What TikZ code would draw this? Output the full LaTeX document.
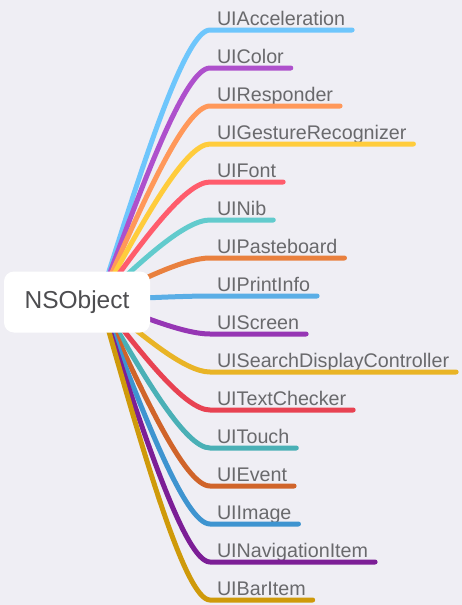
\documentclass[tikz,border=0pt]{standalone}
\usepackage{fontspec}
\setmainfont{Liberation Sans}
\usetikzlibrary{calc}

\definecolor{bgcol}{RGB}{239,238,244}
\definecolor{txtcol}{RGB}{105,105,108}
\definecolor{roottxt}{RGB}{77,77,80}
\definecolor{cAcc}{RGB}{110,198,252}
\definecolor{cColor}{RGB}{174,80,204}
\definecolor{cResp}{RGB}{255,152,90}
\definecolor{cGest}{RGB}{255,204,60}
\definecolor{cFont}{RGB}{255,92,108}
\definecolor{cNib}{RGB}{98,203,205}
\definecolor{cPaste}{RGB}{233,128,62}
\definecolor{cPrint}{RGB}{90,174,230}
\definecolor{cScreen}{RGB}{150,54,180}
\definecolor{cSearch}{RGB}{233,180,38}
\definecolor{cText}{RGB}{232,66,82}
\definecolor{cTouch}{RGB}{74,176,182}
\definecolor{cEvent}{RGB}{208,100,42}
\definecolor{cImage}{RGB}{62,148,208}
\definecolor{cNav}{RGB}{124,30,150}
\definecolor{cBar}{RGB}{207,154,10}

\begin{document}
\begin{tikzpicture}[
        x=1pt, y=-1pt,
        rootbox/.style={rectangle, fill=white, rounded corners=10pt, minimum width=146pt, minimum height=61pt, text=roottxt, font=\fontsize{24.5}{28}\selectfont},
        item/.style={anchor=south west, inner xsep=7pt, inner ysep=0pt, outer sep=0pt, text depth=5pt, text=txtcol, font=\fontsize{19.7}{23}\selectfont},
        branch/.style={line width=5pt, line cap=round, to path={.. controls ($(\tikztostart)!0.5!(\tikztotarget)+(-12.5,0)$) and ($(\tikztotarget)+(-25,0)$) .. (\tikztotarget)}}
    ]
        % Canvas
        \fill[bgcol] (0,0) rectangle (462,605);
        \useasboundingbox (0,0) rectangle (462,605);
        \coordinate (hub) at (100,300);

        % Classes
        \node[item] (acc) at (210,30) {UIAcceleration};
        \node[item] (color) at (210,68) {UIColor};
        \node[item] (responder) at (210,106) {UIResponder};
        \node[item] (gesture) at (210,144) {UIGestureRecognizer};
        \node[item] (font) at (210,182) {UIFont};
        \node[item] (nib) at (210,220) {UINib};
        \node[item] (pasteboard) at (210,258) {UIPasteboard};
        \node[item] (printinfo) at (210,296) {UIPrintInfo};
        \node[item] (screen) at (210,334) {UIScreen};
        \node[item] (search) at (210,372) {UISearchDisplayController};
        \node[item] (textchecker) at (210,410) {UITextChecker};
        \node[item] (touch) at (210,448) {UITouch};
        \node[item] (event) at (210,486) {UIEvent};
        \node[item] (image) at (210,524) {UIImage};
        \node[item] (navitem) at (210,562) {UINavigationItem};
        \node[item] (baritem) at (210,600) {UIBarItem};

        % Branches
        \draw[branch, cAcc] (hub) to (acc.south west) -- (acc.south east);
        \draw[branch, cColor] (hub) to (color.south west) -- (color.south east);
        \draw[branch, cResp] (hub) to (responder.south west) -- (responder.south east);
        \draw[branch, cGest] (hub) to (gesture.south west) -- (gesture.south east);
        \draw[branch, cFont] (hub) to (font.south west) -- (font.south east);
        \draw[branch, cNib] (hub) to (nib.south west) -- (nib.south east);
        \draw[branch, cPaste] (hub) to (pasteboard.south west) -- (pasteboard.south east);
        \draw[branch, cPrint] (hub) to (printinfo.south west) -- (printinfo.south east);
        \draw[branch, cScreen] (hub) to (screen.south west) -- (screen.south east);
        \draw[branch, cSearch] (hub) to (search.south west) -- (search.south east);
        \draw[branch, cText] (hub) to (textchecker.south west) -- (textchecker.south east);
        \draw[branch, cTouch] (hub) to (touch.south west) -- (touch.south east);
        \draw[branch, cEvent] (hub) to (event.south west) -- (event.south east);
        \draw[branch, cImage] (hub) to (image.south west) -- (image.south east);
        \draw[branch, cNav] (hub) to (navitem.south west) -- (navitem.south east);
        \draw[branch, cBar] (hub) to (baritem.south west) -- (baritem.south east);

        % Root
        \node[rootbox] (root) at (77,302) {NSObject};
    \end{tikzpicture}
\end{document}
